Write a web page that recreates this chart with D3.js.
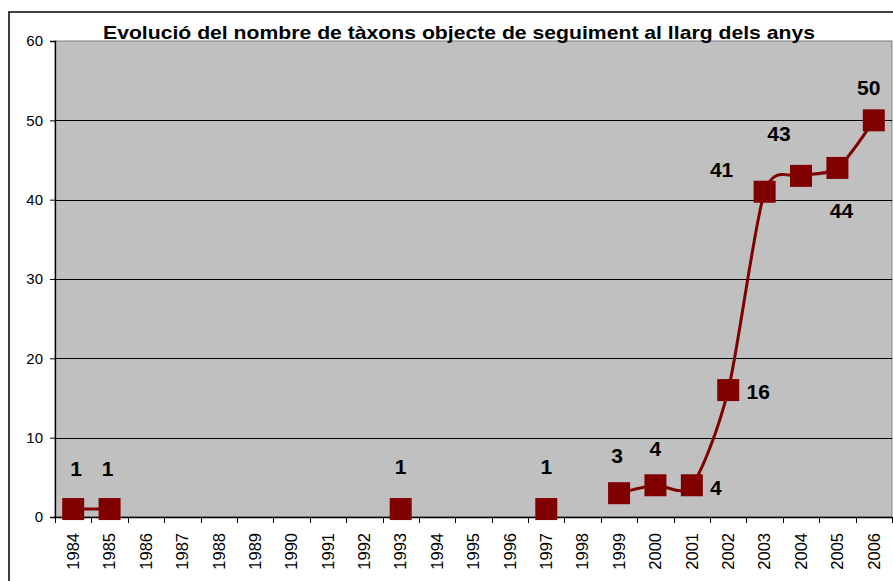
<!DOCTYPE html>
<html>
<head>
<meta charset="utf-8">
<script src="https://cdn.jsdelivr.net/npm/d3@7"></script>
<style>
  body { margin: 0; background: #fff; }
  svg { display: block; font-family: Arial, "Liberation Sans", sans-serif; }
</style>
</head>
<body>
<div class="container"></div>
<script>
// data
var years = ['1984','1985','1986','1987','1988','1989','1990','1991','1992','1993','1994','1995',
             '1996','1997','1998','1999','2000','2001','2002','2003','2004','2005','2006'];
var taxons = [1, 1, null, null, null, null, null, null, null, 1, null, null,
              null, 1, null, 3, 4, 4, 16, 41, 43, 44, 50];
var yTicks = [0, 10, 20, 30, 40, 50, 60];
var title = 'Evolució del nombre de tàxons objecte de seguiment al llarg dels anys';

// where each value label sits relative to its marker (dx, dy)
var labelOffsets = [[3,-41],[-2,-41],null,null,null,null,null,null,null,[0,-43],null,null,
                    null,[0,-43],null,[-2,-38],[0,-37],[24,2],[30,1],[-43,-22],[-22,-42],[4,43],[-5,-33]];

var w = 893, h = 581;
var mLeft = 55, mRight = 892, mTop = 41, mBottom = 517;

var svg = d3.select('.container').append('svg')
  .attr('width', w)
  .attr('height', h);

// outer chart border
svg.append('rect')
  .attr('x', 9).attr('y', 12)
  .attr('width', 900).attr('height', 600)
  .attr('fill', '#fff')
  .attr('stroke', '#000')
  .attr('stroke-width', 1.5);

var x = d3.scaleBand().domain(years).range([mLeft, mRight]).padding(0);
var y = d3.scaleLinear().domain([0, 60]).range([mBottom, mTop]);

// plot area
svg.append('rect')
  .attr('x', mLeft).attr('y', mTop)
  .attr('width', mRight - mLeft).attr('height', mBottom - mTop)
  .attr('fill', '#c0c0c0')
  .attr('stroke', '#808080')
  .attr('stroke-width', 1);

// gridlines
svg.selectAll('.grid')
  .data(yTicks.filter(function(d){ return d > 0 && d < 60; }))
  .enter().append('line')
  .attr('class', 'grid')
  .attr('x1', mLeft).attr('x2', mRight)
  .attr('y1', function(d){ return Math.round(y(d)) + 0.5; })
  .attr('y2', function(d){ return Math.round(y(d)) + 0.5; })
  .attr('stroke', '#000')
  .attr('stroke-width', 1);

// y axis
var yAxis = d3.axisLeft(y).tickValues(yTicks).tickSize(5).tickPadding(7);
var yG = svg.append('g')
  .attr('transform', 'translate(' + mLeft + ',0)')
  .call(yAxis);
yG.select('.domain').attr('stroke', '#000').attr('stroke-width', 1.3);
yG.selectAll('.tick line').attr('stroke', '#000');
yG.selectAll('text').style('font-size', '15px').attr('fill', '#000')
  .style('font-family', 'Arial, "Liberation Sans", sans-serif');

// x axis: labels at category centres, ticks on category boundaries
var xAxis = d3.axisBottom(x).tickSize(0).tickPadding(0);
var xG = svg.append('g')
  .attr('transform', 'translate(0,' + mBottom + ')')
  .call(xAxis);
xG.select('.domain').remove();
xG.selectAll('text')
  .attr('transform', 'rotate(-90)')
  .attr('x', -16).attr('y', 0).attr('dy', '0.35em')
  .style('text-anchor', 'end')
  .style('font-size', '16.5px')
  .style('font-family', 'Arial, "Liberation Sans", sans-serif')
  .attr('fill', '#000');

svg.append('line')
  .attr('x1', mLeft).attr('x2', mRight)
  .attr('y1', mBottom + 0.5).attr('y2', mBottom + 0.5)
  .attr('stroke', '#000').attr('stroke-width', 1.3);

var bounds = years.map(function(d){ return x(d); }).concat([x.range()[1]]);
svg.selectAll('.xtick')
  .data(bounds)
  .enter().append('line')
  .attr('class', 'xtick')
  .attr('x1', function(d){ return Math.round(d) + 0.5; })
  .attr('x2', function(d){ return Math.round(d) + 0.5; })
  .attr('y1', mBottom).attr('y2', mBottom + 6)
  .attr('stroke', '#000');

// series
var pts = years.map(function(yr, i){ return { year: yr, value: taxons[i], off: labelOffsets[i] }; });

var line = d3.line()
  .defined(function(d){ return d.value != null; })
  .x(function(d){ return x(d.year) + x.bandwidth() / 2; })
  .y(function(d){ return y(d.value); })
  .curve(d3.curveCardinal.tension(0.2));

svg.append('path')
  .datum(pts)
  .attr('d', line)
  .attr('fill', 'none')
  .attr('stroke', '#800000')
  .attr('stroke-width', 3);

var shown = pts.filter(function(d){ return d.value != null; });
var m = 22;

svg.selectAll('.marker')
  .data(shown)
  .enter().append('rect')
  .attr('class', 'marker')
  .attr('x', function(d){ return x(d.year) + x.bandwidth() / 2 - m / 2; })
  .attr('y', function(d){ return y(d.value) - m / 2; })
  .attr('width', m).attr('height', m)
  .attr('fill', '#800000');

svg.selectAll('.vlabel')
  .data(shown)
  .enter().append('text')
  .attr('class', 'vlabel')
  .attr('x', function(d){ return x(d.year) + x.bandwidth() / 2 + d.off[0]; })
  .attr('y', function(d){ return y(d.value) + d.off[1]; })
  .attr('dy', '0.36em')
  .style('text-anchor', 'middle')
  .style('font-size', '21px')
  .style('font-weight', 'bold')
  .text(function(d){ return d.value; });

// title
svg.append('text')
  .attr('x', 459).attr('y', 39)
  .style('text-anchor', 'middle')
  .style('font-size', '19px')
  .style('font-weight', 'bold')
  .attr('textLength', 712)
  .attr('lengthAdjust', 'spacingAndGlyphs')
  .text(title);
</script>
</body>
</html>
